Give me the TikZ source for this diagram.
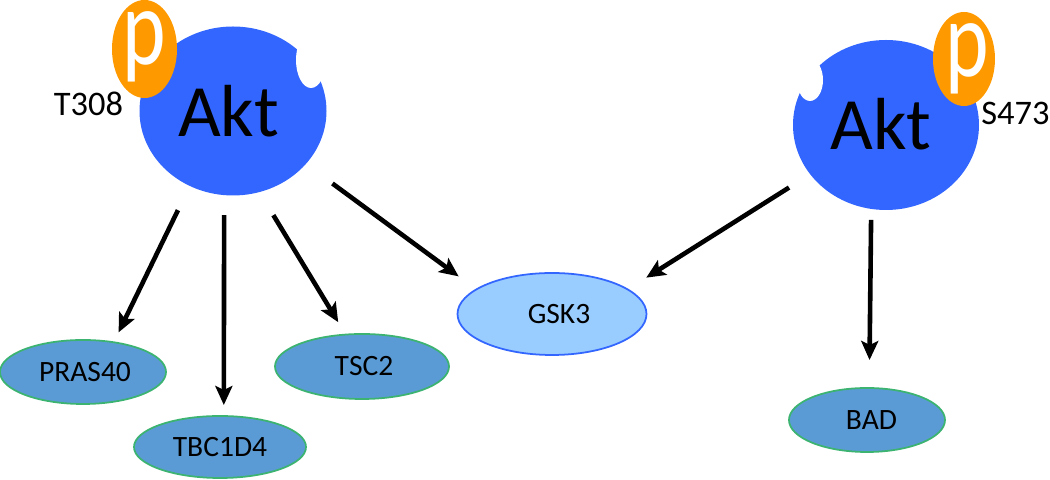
\documentclass[tikz,border=0pt]{standalone}
\usepackage{fontspec}
\setmainfont{Carlito}
\newfontfamily\pfont[FakeStretch=0.76]{Carlito}
\usetikzlibrary{arrows.meta,shapes.geometric}
\definecolor{aktblue}{HTML}{3366FF}
\definecolor{porange}{HTML}{FF9900}
\definecolor{subblue}{HTML}{5B9BD5}
\definecolor{subgreen}{HTML}{3CB371}
\definecolor{gskblue}{HTML}{99CCFF}
\begin{document}
\begin{tikzpicture}
    [blob/.style={ellipse,inner sep=0pt,outer sep=0pt},
     kinase/.style={blob,fill=aktblue,minimum width=1.87cm,minimum height=1.69cm},
     bite/.style={blob,fill=white},
     phospho/.style={blob,fill=porange},
     target/.style={blob,draw=subgreen,fill=subblue,line width=0.5pt,font=\fontsize{8.4}{10}\selectfont},
     site/.style={font=\fontsize{9.8}{12}\selectfont},
     aktname/.style={anchor=base,font=\fontsize{21}{25}\selectfont},
     pname/.style={anchor=base,text=white,font=\pfont\fontsize{31}{36}\selectfont},
     act/.style={-{Stealth[length=0.19cm,width=0.17cm,inset=0.04cm]},line width=0.046cm}]
    \useasboundingbox (0,0) rectangle (10.5,-4.8);

    \node[kinase] (aktL) at (2.33,-1.11) {};
    \node[bite,minimum width=0.30cm,minimum height=0.56cm] (biteL) at (3.11,-0.60) {};
    \node[phospho,minimum width=0.65cm,minimum height=0.98cm] (phosL) at (1.445,-0.49) {};
    \node[aktname] (aktnameL) at (2.285,-1.37) {Akt};
    \node[pname] (pL) at (1.445,-0.65) {p};
    \node[site] (t308) at (0.885,-1.04) {T308};

    \node[kinase,minimum width=1.86cm,minimum height=1.70cm] (aktR) at (8.86,-1.25) {};
    \node[bite,minimum width=0.26cm,minimum height=0.42cm] (biteR) at (8.10,-0.80) {};
    \node[phospho,minimum width=0.62cm,minimum height=0.94cm] (phosR) at (9.64,-0.59) {};
    \node[aktname] (aktnameR) at (8.81,-1.50) {Akt};
    \node[pname] (pR) at (9.675,-0.765) {p};
    \node[site] (s473) at (10.155,-1.13) {S473};

    \node[target,minimum width=1.66cm,minimum height=0.64cm] (pras) at (0.83,-3.72) {\hspace*{0.04cm}PRAS40};
    \node[target,minimum width=1.72cm,minimum height=0.62cm] (tbc) at (2.20,-4.47) {TBC1D4};
    \node[target,minimum width=1.74cm,minimum height=0.65cm] (tsc) at (3.62,-3.665) {\hspace*{0.04cm}TSC2};
    \node[target,draw=aktblue,fill=gskblue,minimum width=1.89cm,minimum height=0.82cm] (gsk) at (5.52,-3.14) {\hspace*{0.14cm}GSK3};
    \node[target,minimum width=1.56cm,minimum height=0.64cm] (bad) at (8.67,-4.20) {\hspace*{0.09cm}BAD};

    \draw[act,shorten <=0.27cm,shorten >=0.11cm] (aktL.240) -- (pras.44.5);
    \draw[act,shorten <=0.20cm,shorten >=0.11cm] (aktL.264) -- (tbc.83);
    \draw[act,shorten <=0.27cm,shorten >=0.145cm] (aktL.288.5) -- (tsc.117.6);
    \draw[act,shorten <=0.33cm,shorten >=0.22cm] (aktL.324.3) -- (gsk.162.6);
    \draw[act,shorten <=0.25cm,shorten >=0.22cm] (aktR.213.4) -- (gsk.18.8);
    \draw[act,shorten <=0.11cm,shorten >=0.28cm] (aktR.260) -- (bad.86.4);
\end{tikzpicture}
\end{document}
